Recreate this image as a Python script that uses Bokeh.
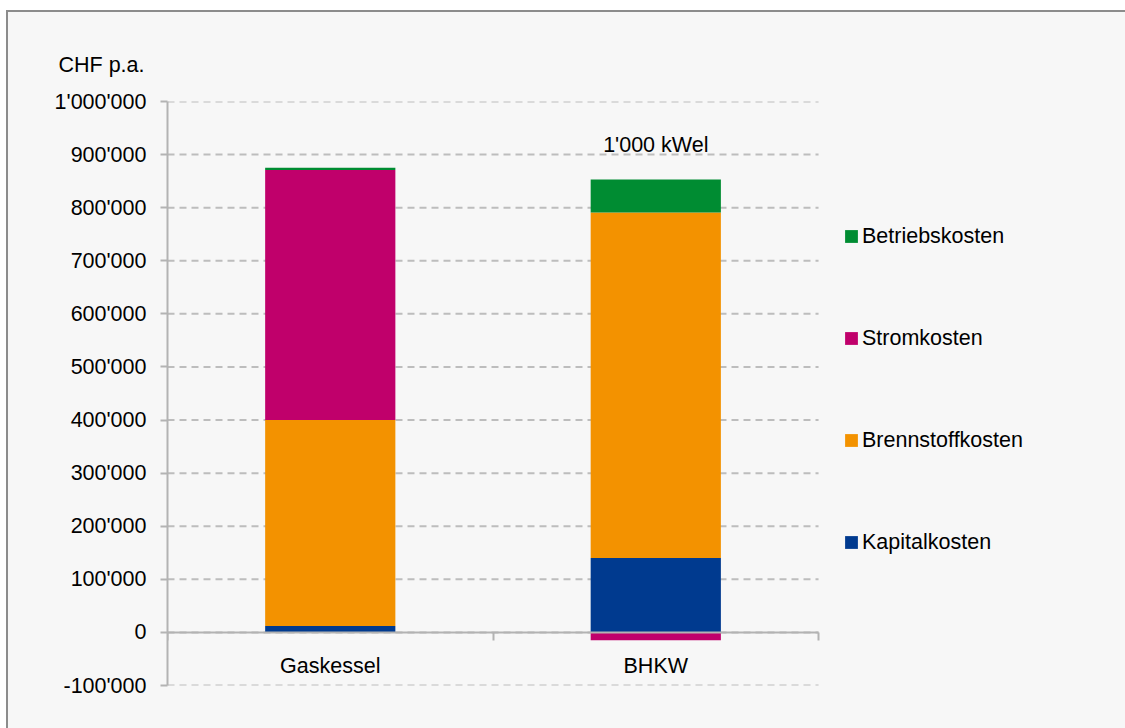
from bokeh.plotting import figure
from bokeh.models import (Range1d, FixedTicker, LinearAxis, Legend, LegendItem,
                          Label, Title, ColumnDataSource)
from bokeh.embed import file_html
from bokeh.resources import INLINE

# ---------------- data ----------------
categories = ["Gaskessel", "BHKW"]
series_names = ["Kapitalkosten", "Brennstoffkosten", "Stromkosten", "Betriebskosten"]
kapitalkosten = [12000, 140000]
brennstoffkosten = [388000, 651000]
stromkosten = [471000, -15000]
betriebskosten = [4000, 62000]
series_colors = ["#003A8F", "#F39200", "#C0006B", "#008C32"]
y_ticks = [-100000, 0, 100000, 200000, 300000, 400000, 500000,
           600000, 700000, 800000, 900000, 1000000]
y_tick_labels = ["-100'000", "0", "100'000", "200'000", "300'000", "400'000",
                 "500'000", "600'000", "700'000", "800'000", "900'000", "1'000'000"]
y_title = "CHF p.a."
annotation_text = "1'000 kWel"
annotation_category = "BHKW"

series_values = [kapitalkosten, brennstoffkosten, stromkosten, betriebskosten]

FONT = "Liberation Sans"
FS = "21.5px"
GRAY = "#b3b3b3"
BG = "#f7f7f7"
EDGE = "#8c8c8c"

n_cat = len(categories)
# plotting area spans the categories plus room on the right for the legend
x_end = n_cat * 1.4715

p = figure(width=1125, height=728,
           x_range=Range1d(0, x_end),
           y_range=Range1d(-100000, 1000000),
           output_backend="svg", toolbar_location=None,
           x_axis_location=None,
           min_border_left=167, min_border_right=0,
           min_border_top=101, min_border_bottom=43,
           background_fill_color=BG, background_fill_alpha=0,
           border_fill_color=BG, border_fill_alpha=0,
           outline_line_color=None)
p.styles = {
    "vertical-align": "top",
    "background": (f"linear-gradient({EDGE},{EDGE}) 6px 10px / 2px 2000px no-repeat, "
                   f"linear-gradient({EDGE},{EDGE}) 6px 10px / 3000px 2px no-repeat, "
                   f"linear-gradient({BG},{BG}) 8px 12px / 3000px 2000px no-repeat, "
                   "#ffffff"),
}

# horizontal dashed grid lines across the category area
p.xgrid.visible = False
p.ygrid.visible = False
p.segment(x0=[0] * len(y_ticks), x1=[n_cat] * len(y_ticks), y0=y_ticks, y1=y_ticks,
          line_color="#bdbdbd", line_width=2, line_dash="7 5")

# y axis
ya = p.yaxis[0]
ya.ticker = FixedTicker(ticks=y_ticks)
ya.major_label_overrides = {t: l for t, l in zip(y_ticks, y_tick_labels)}
ya.axis_line_color = GRAY
ya.axis_line_width = 2
ya.major_tick_line_color = GRAY
ya.major_tick_line_width = 2
ya.major_tick_out = 7
ya.major_tick_in = 0
ya.minor_tick_line_color = None
ya.major_label_standoff = 14
ya.major_label_text_font = FONT
ya.major_label_text_font_size = FS
ya.major_label_text_color = "black"

# x axis (at y = 0): one for boundary ticks, one for labels
x_bounds = list(range(n_cat + 1))
x_centers = [i + 0.5 for i in range(n_cat)]

xa_ticks = LinearAxis(ticker=FixedTicker(ticks=x_bounds), fixed_location=0,
                      bounds=(0, n_cat))
xa_ticks.axis_line_color = GRAY
xa_ticks.axis_line_width = 2
xa_ticks.major_tick_line_color = GRAY
xa_ticks.major_tick_line_width = 2
xa_ticks.major_tick_out = 8
xa_ticks.major_tick_in = 0
xa_ticks.minor_tick_line_color = None
xa_ticks.major_label_text_alpha = 0
xa_ticks.major_label_text_font_size = "1px"
p.add_layout(xa_ticks, "below")

xa_labels = LinearAxis(ticker=FixedTicker(ticks=x_centers), fixed_location=0,
                       bounds=(0, n_cat))
xa_labels.major_label_overrides = {c: n for c, n in zip(x_centers, categories)}
xa_labels.axis_line_color = None
xa_labels.major_tick_line_color = None
xa_labels.minor_tick_line_color = None
xa_labels.major_tick_out = 0
xa_labels.major_tick_in = 0
xa_labels.major_label_standoff = 22
xa_labels.major_label_text_font = FONT
xa_labels.major_label_text_font_size = FS
xa_labels.major_label_text_color = "black"
p.add_layout(xa_labels, "below")

# stacked bars (positives stack up, negatives stack down)
pos = [0] * n_cat
neg = [0] * n_cat
renderers = {}
for name, vals, col in zip(series_names, series_values, series_colors):
    bottoms, tops = [], []
    for i, v in enumerate(vals):
        if v >= 0:
            bottoms.append(pos[i]); tops.append(pos[i] + v); pos[i] += v
        else:
            tops.append(neg[i]); bottoms.append(neg[i] + v); neg[i] += v
    src = ColumnDataSource(dict(x=x_centers, bottom=bottoms, top=tops))
    r = p.vbar(x="x", width=0.4, bottom="bottom", top="top", source=src,
               fill_color=col, line_color=None)
    renderers[name] = r

# legend (inside the plotting area, right of the bars)
legend_order = ["Betriebskosten", "Stromkosten", "Brennstoffkosten", "Kapitalkosten"]
lg = Legend(items=[LegendItem(label=n, renderers=[renderers[n]]) for n in legend_order],
            location=(676, 130), orientation="vertical",
            glyph_width=16, glyph_height=16, label_height=26,
            label_standoff=3, padding=0, margin=0, spacing=76,
            border_line_color=None, background_fill_alpha=0,
            label_text_font=FONT, label_text_font_size=FS,
            label_text_color="black")
p.add_layout(lg, "center")

# y title above axis
p.add_layout(Title(text=y_title, align="left", offset=-109, standoff=50,
                   text_font=FONT, text_font_size=FS, text_font_style="normal",
                   text_color="black"), "above")

# annotation above BHKW bar
p.add_layout(Label(x=categories.index(annotation_category) + 0.5, y=918000,
                   text=annotation_text, text_align="center",
                   text_baseline="middle", text_font=FONT, text_font_size=FS,
                   text_color="black"))

open("out.html", "w").write(file_html(p, INLINE))
